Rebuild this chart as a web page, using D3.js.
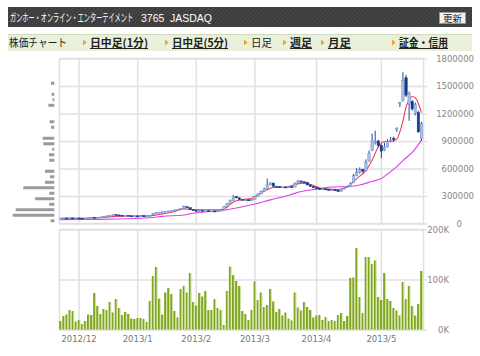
<!DOCTYPE html>
<html><head><meta charset="utf-8">
<script src="https://cdn.jsdelivr.net/npm/d3@7/dist/d3.min.js"></script>
<style>body{margin:0;background:#fff;}svg{display:block;}</style>
</head><body><svg id="c" width="480" height="356"></svg>
<script>
// ---------------- DATA ----------------
const title = "ガンホー・オンライン・エンターテイメント";
const code = "3765";
const market = "JASDAQ";
const navFirst = "株価チャート";
const navLabels = ["日中足(1分)", "日中足(5分)", "日足", "週足", "月足", "証金・信用"];
const navLinked = [true, true, false, true, true, true];

const dates = [
 "2012/11/22","2012/11/26","2012/11/27","2012/11/28","2012/11/29","2012/11/30",
 "2012/12/03","2012/12/04","2012/12/05","2012/12/06","2012/12/07","2012/12/10","2012/12/11","2012/12/12","2012/12/13","2012/12/14","2012/12/17","2012/12/18","2012/12/19","2012/12/20","2012/12/21","2012/12/25","2012/12/26","2012/12/27","2012/12/28",
 "2013/01/04","2013/01/07","2013/01/08","2013/01/09","2013/01/10","2013/01/11","2013/01/15","2013/01/16","2013/01/17","2013/01/18","2013/01/21","2013/01/22","2013/01/23","2013/01/24","2013/01/25","2013/01/28","2013/01/29","2013/01/30","2013/01/31",
 "2013/02/01","2013/02/04","2013/02/05","2013/02/06","2013/02/07","2013/02/08","2013/02/12","2013/02/13","2013/02/14","2013/02/15","2013/02/18","2013/02/19","2013/02/20","2013/02/21","2013/02/22","2013/02/25","2013/02/26","2013/02/27","2013/02/28",
 "2013/03/01","2013/03/04","2013/03/05","2013/03/06","2013/03/07","2013/03/08","2013/03/11","2013/03/12","2013/03/13","2013/03/14","2013/03/15","2013/03/18","2013/03/19","2013/03/21","2013/03/22","2013/03/25","2013/03/26","2013/03/27","2013/03/28","2013/03/29",
 "2013/04/01","2013/04/02","2013/04/03","2013/04/04","2013/04/05","2013/04/08","2013/04/09","2013/04/10","2013/04/11","2013/04/12","2013/04/15","2013/04/16","2013/04/17","2013/04/18","2013/04/19","2013/04/22","2013/04/23","2013/04/24","2013/04/25","2013/04/26","2013/04/30",
 "2013/05/01","2013/05/02","2013/05/07","2013/05/08","2013/05/09","2013/05/10","2013/05/13","2013/05/14","2013/05/15","2013/05/16","2013/05/17","2013/05/20","2013/05/21","2013/05/22"
];
// prices in thousands of yen
const opens  = [57,58,60,57,61,58,60,58,56,60,62,66,63,68,71,76,83,89,97,93,90,86,89,84,80,83,81,85,80,83,95,110,118,123,128,133,136,141,148,153,165,183,172,151,143,138,141,135,139,131,137,134,141,150,186,216,252,295,280,263,256,259,254,263,292,322,352,378,422,441,406,401,394,399,391,401,398,441,463,455,449,421,404,392,385,371,378,372,365,368,362,350,376,393,406,450,521,561,590,580,680,800,880,900,850,800,835,896,930,1030,1310,1340,1590,1300,1330,1200,1210,930];
const highs  = [60,62,61,63,62,61,61,59,62,64,68,67,70,73,78,85,91,100,98,95,91,91,90,85,85,84,87,86,85,91,115,122,126,131,136,139,144,152,157,166,196,186,174,153,145,144,142,141,140,139,138,143,149,192,225,262,310,300,284,266,264,261,268,298,330,360,392,490,452,444,410,404,404,402,405,405,448,475,470,460,452,425,408,396,388,382,380,374,372,370,364,381,398,412,450,540,605,612,598,700,795,980,1012,912,862,880,920,945,948,1048,1325,1650,1620,1440,1350,1320,1230,1110];
const lows   = [55,57,56,56,57,57,56,54,55,59,61,62,62,67,70,75,82,88,90,88,84,85,83,79,79,79,80,79,79,82,94,108,115,120,125,130,134,139,145,150,160,170,148,140,135,136,133,134,129,130,132,133,140,148,182,212,248,275,258,250,252,250,252,261,288,318,348,372,415,400,396,388,391,387,389,394,396,438,450,444,416,400,388,380,366,368,368,360,362,358,343,348,372,390,402,445,515,545,552,575,675,790,860,830,712,790,830,885,890,1000,1270,1330,1380,1120,1230,1180,990,900];
const closes = [58,60,57,61,58,60,58,56,60,62,66,63,68,71,76,83,89,97,93,90,86,89,84,80,83,81,85,80,83,89,110,118,123,128,133,136,141,148,153,162,183,175,151,143,138,141,135,139,131,137,134,141,146,186,216,252,288,280,263,256,259,254,263,292,322,352,376,422,441,406,401,394,399,391,401,398,441,463,455,449,421,404,392,385,371,378,372,365,368,362,350,376,393,406,441,521,561,586,571,666,762,902,894,852,790,832,896,905,921,1040,1320,1560,1400,1420,1250,1300,1000,1090];
// volume in thousands of shares
const volumes = [17,27,30,39,37,16,19,11,17,30,29,73,47,31,41,39,55,34,61,43,29,35,31,22,21,23,23,21,15,57,107,125,62,30,74,83,71,37,24,81,87,74,113,55,48,73,66,77,39,39,61,43,39,9,77,126,109,97,87,37,31,19,39,96,59,74,45,49,81,56,35,41,28,34,22,18,74,44,38,55,45,39,24,28,29,19,25,17,19,17,29,33,17,27,103,104,163,65,33,145,145,131,138,65,59,113,61,57,43,38,28,95,61,87,47,28,51,117];
// moving averages (day number, value)
const maShortDay = [1,8,14,20,26,30,34,38,41,44,50,53,55,57,60,63,65,68,71,74,77,80,83,85,88,91,93,95,97,100,102,104,106,108,110,111,112,113,114,115,116,117,118];
const maShortVal = [56,57,65,80,82,85,105,130,160,152,150,150,178,235,260,275,312,372,395,395,425,440,415,388,375,370,385,425,490,580,690,835,893,895,920,1000,1120,1270,1350,1385,1370,1310,1210];
const maLongDay = [1,14,30,34,41,44,54,64,69,75,79,82,85,89,94,98,102,105,107,110,112,115,118];
const maLongVal = [42,45,62,78,92,112,145,212,258,308,350,365,380,398,403,420,460,490,540,620,687,775,910];
// volume by price (bin centre in thousand yen, volume)
const vbpPrice = [30,90,150,210,270,330,390,450,510,570,630,690,750,810,870,930,990,1050,1110,1170,1230,1290,1350,1410,1470,1530];
const vbpVolume = [185,2080,1930,250,965,250,1550,465,215,465,0,250,265,100,550,585,0,165,235,0,0,300,85,135,0,165];
// axis ticks
const priceTicks = [0,300,600,900,1200,1500,1800];
const priceTickLabels = ["0","300000","600000","900000","1200000","1500000","1800000"];
const volTicks = [0,100,200];
const volTickLabels = ["0K","100K","200K"];
const monthTickDates = ["2012/12/03","2013/01/04","2013/02/01","2013/03/01","2013/04/01","2013/05/01"];
const monthTickLabels = ["2012/12","2013/1","2013/2","2013/3","2013/4","2013/5"];

// ---------------- DRAW ----------------
const svg = d3.select("#c");
const defs = svg.append("defs");
const pat = defs.append("pattern").attr("id","stripe").attr("width",3).attr("height",3)
  .attr("patternUnits","userSpaceOnUse").attr("patternTransform","rotate(45)");
pat.append("rect").attr("width",3).attr("height",3).attr("fill","#3c3c3c");
pat.append("rect").attr("width",1).attr("height",3).attr("fill","#4a4a4a");

// header
svg.append("rect").attr("x",8).attr("y",7).attr("width",464).attr("height",20).attr("fill","url(#stripe)");
svg.append("g").attr("transform","translate(10,21.5) scale(0.56,1)")
  .append("text").attr("x",0).attr("y",0).attr("fill","#fff")
  .style("font-family","'Noto Sans CJK JP'").style("font-size","11px").text(title);
svg.append("text").attr("x",141).attr("y",21.5).attr("fill","#fff")
  .style("font-family","'Liberation Sans',Arial").style("font-size","10.5px").text(code);
svg.append("text").attr("x",170).attr("y",21.5).attr("fill","#fff")
  .style("font-family","'Liberation Sans',Arial").style("font-size","10.5px").text(market);
svg.append("rect").attr("x",439.5).attr("y",12.5).attr("width",26).attr("height",11)
  .attr("fill","#f2f2f2").attr("stroke","#999");
svg.append("text").attr("x",452.5).attr("y",21.5).attr("text-anchor","middle").attr("fill","#222")
  .style("font-family","'Noto Sans CJK JP'").style("font-size","9.5px").text("更新");

// nav bar
svg.append("rect").attr("x",8).attr("y",34).attr("width",464).attr("height",17).attr("fill","#e9f1dc");
svg.append("line").attr("x1",8).attr("x2",472).attr("y1",34.5).attr("y2",34.5).attr("stroke","#cfdcb9");
const navFont = "'Noto Sans CJK JP'";
svg.append("text").attr("x",9).attr("y",47).attr("fill","#222")
  .style("font-family",navFont).style("font-size","11px")
  .attr("textLength",58).attr("lengthAdjust","spacingAndGlyphs").text(navFirst);
const navX = [90,172,251,290,328,399];
const navW = [58,56,21,22,23,49];
navLabels.forEach((t,i)=>{
  const x = navX[i];
  svg.append("path").attr("d",`M${x-7},${39.5}L${x-3.5},${42.5}L${x-7},${45.5}Z`).attr("fill","#f0a020");
  svg.append("text").attr("x",x).attr("y",47).attr("fill","#222")
    .style("font-family",navFont).style("font-size","11px")
    .style("font-weight",navLinked[i]?"bold":"normal")
    .attr("textLength",navW[i]).attr("lengthAdjust","spacingAndGlyphs").text(t);
  if (navLinked[i]) svg.append("line").attr("x1",x).attr("x2",x+navW[i]).attr("y1",48.5).attr("y2",48.5)
    .attr("stroke","#222").attr("stroke-width",1);
});

// scales
const X0 = 59, X1 = 423;
const x = d3.scaleBand().domain(dates).range([X0, X1]).padding(0);
const cx = d => x(d) + x.bandwidth()/2;
const yP = d3.scaleLinear().domain([0,1800]).range([223.5, 58.5]);
const yV = d3.scaleLinear().domain([0,200]).range([329.5, 229.5]);
const gridColor = "#e0e0e0";
const tickFont = "'DejaVu Sans',Verdana,sans-serif";

function panel(y0, y1) {
  svg.append("rect").attr("x",X0+0.5).attr("y",y0).attr("width",X1-X0).attr("height",y1-y0)
    .attr("fill","#fff").attr("stroke",gridColor).attr("stroke-width",1.5);
}
panel(58.5, 223.5);
panel(229.5, 329.5);

// vertical month gridlines via axis
const monthAxis = d3.axisBottom(x).tickValues(monthTickDates).tickFormat((d,i)=>monthTickLabels[i]).tickSizeOuter(0);
[[58.5,223.5],[229.5,329.5]].forEach(([a,b])=>{
  const g = svg.append("g").attr("transform",`translate(0,${a})`)
    .call(d3.axisBottom(x).tickValues(monthTickDates).tickSize(b-a).tickFormat("").tickSizeOuter(0));
  g.select(".domain").remove();
  g.selectAll(".tick line").attr("stroke",gridColor).attr("stroke-width",1.5);
});
const gx = svg.append("g").attr("transform","translate(0,329.5)").call(monthAxis.tickSize(0).tickPadding(6));
gx.select(".domain").remove();
gx.selectAll("text").attr("fill","#777").style("font-family",tickFont).style("font-size","8.5px");

// horizontal grid, price
const gp = svg.append("g").attr("transform",`translate(${X0},0)`)
  .call(d3.axisRight(yP).tickValues(priceTicks).tickSize(X1-X0+4).tickFormat(""));
gp.select(".domain").remove();
gp.selectAll(".tick line").attr("stroke",gridColor).attr("stroke-width",1.5);
const gpl = svg.append("g").attr("transform",`translate(474,0)`)
  .call(d3.axisLeft(yP).tickValues(priceTicks).tickSize(0).tickPadding(0).tickFormat((d,i)=>priceTickLabels[i]));
gpl.select(".domain").remove();
gpl.selectAll("text").attr("fill","#888").style("font-family",tickFont).style("font-size","8.5px")
  .attr("dy","0.35em");
gpl.selectAll(".tick").filter(d=>d===0).select("text").attr("x",-12);

// horizontal grid, volume
const gv = svg.append("g").attr("transform",`translate(${X0},0)`)
  .call(d3.axisRight(yV).tickValues(volTicks).tickSize(X1-X0+4).tickFormat(""));
gv.select(".domain").remove();
gv.selectAll(".tick line").attr("stroke",gridColor).attr("stroke-width",1.5);
const gvl = svg.append("g").attr("transform",`translate(449,0)`)
  .call(d3.axisLeft(yV).tickValues(volTicks).tickSize(0).tickPadding(0).tickFormat((d,i)=>volTickLabels[i]));
gvl.select(".domain").remove();
gvl.selectAll("text").attr("fill","#888").style("font-family",tickFont).style("font-size","8.5px");

// volume-by-price histogram
const vbpX = d3.scaleLinear().domain([0, d3.max(vbpVolume)]).range([0, 41.6]);
svg.append("g").selectAll("rect").data(vbpPrice).join("rect")
  .attr("x",(d,i)=>54.3 - vbpX(vbpVolume[i]))
  .attr("y",d=>yP(d)-1.5).attr("height",3)
  .attr("width",(d,i)=>vbpX(vbpVolume[i]))
  .attr("fill","#9a9a9a");

// volume bars
const vg = svg.append("g");
vg.selectAll("rect.v").data(dates).join("rect").attr("class","v")
  .attr("x",d=>cx(d)-1.3).attr("width",1.9)
  .attr("y",(d,i)=>yV(volumes[i])).attr("height",(d,i)=>yV(0)-yV(volumes[i]))
  .attr("fill","#7fa620");
vg.selectAll("rect.h").data(dates).join("rect").attr("class","h")
  .attr("x",d=>cx(d)+0.6).attr("width",0.8)
  .attr("y",(d,i)=>yV(volumes[i])).attr("height",(d,i)=>yV(0)-yV(volumes[i]))
  .attr("fill","#c9dc8e");

// moving averages
const lineGen = d3.line().curve(d3.curveMonotoneX);
svg.append("path").attr("d",lineGen(maLongDay.map((d,i)=>[cx(dates[d-1]), yP(maLongVal[i])])))
  .attr("fill","none").attr("stroke","#e040e8").attr("stroke-width",1.1);
svg.append("path").attr("d",lineGen(maShortDay.map((d,i)=>[cx(dates[d-1]), yP(maShortVal[i])])))
  .attr("fill","none").attr("stroke","#f03a5a").attr("stroke-width",1.1);

// candles
const cg = svg.append("g");
cg.selectAll("line").data(dates).join("line")
  .attr("x1",d=>cx(d)).attr("x2",d=>cx(d))
  .attr("y1",(d,i)=>yP(highs[i])).attr("y2",(d,i)=>yP(lows[i]))
  .attr("stroke","#27479a").attr("stroke-width",1);
cg.selectAll("rect").data(dates).join("rect")
  .attr("x",d=>cx(d)-1.2).attr("width",2.4)
  .attr("y",(d,i)=>yP(Math.max(opens[i],closes[i])))
  .attr("height",(d,i)=>Math.max(1, Math.abs(yP(opens[i])-yP(closes[i]))))
  .attr("fill",(d,i)=>closes[i]>=opens[i] ? "#a9c0e4" : "#163a8e")
  .attr("stroke",(d,i)=>closes[i]>=opens[i] ? "#6f8fcc" : "#163a8e")
  .attr("stroke-width",0.5);
</script></body></html>
